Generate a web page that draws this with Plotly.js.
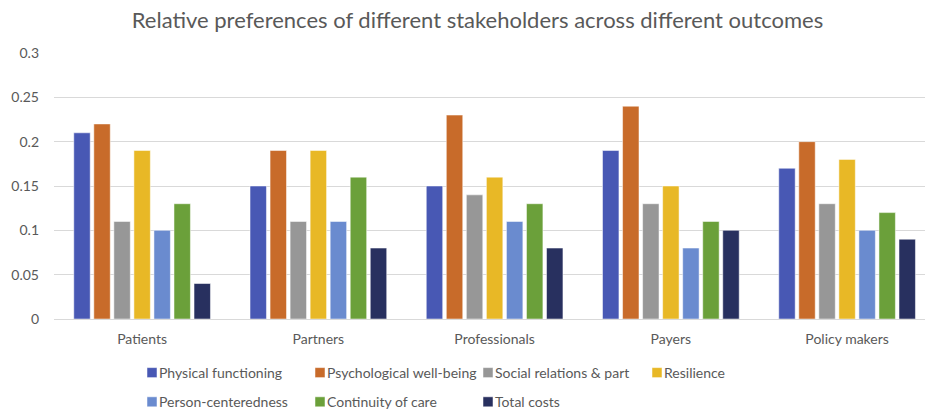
<!DOCTYPE html>
<html>
<head>
<meta charset="utf-8">
<script src="https://cdn.plot.ly/plotly-3.0.1.min.js"></script>
<style>html,body{margin:0;padding:0;background:#fff;}#chart{width:925px;height:411px;}</style>
</head>
<body>
<div id="chart"></div>
<script>
const categories = ["Patients", "Partners", "Professionals", "Payers", "Policy makers"];
const seriesNames = ["Physical functioning", "Psychological well-being", "Social relations & part", "Resilience", "Person-centeredness", "Continuity of care", "Total costs"];
const physical = [0.21, 0.15, 0.15, 0.19, 0.17];
const psychological = [0.22, 0.19, 0.23, 0.24, 0.20];
const social = [0.11, 0.11, 0.14, 0.13, 0.13];
const resilience = [0.19, 0.19, 0.16, 0.15, 0.18];
const personCentered = [0.10, 0.11, 0.11, 0.08, 0.10];
const continuity = [0.13, 0.16, 0.13, 0.11, 0.12];
const totalCosts = [0.04, 0.08, 0.08, 0.10, 0.09];
const yTicks = [0, 0.05, 0.1, 0.15, 0.2, 0.25, 0.3];
const yTickLabels = ["0", "0.05", "0.1", "0.15", "0.2", "0.25", "0.3"];

const seriesValues = [physical, psychological, social, resilience, personCentered, continuity, totalCosts];
const colors = ["#4858B4", "#C86B2A", "#979797", "#E8B826", "#6A8BCF", "#6BA03A", "#28305F"];
const legendFor = ["legend", "legend2", "legend3", "legend4", "legend", "legend2", "legend3"];

const FONT = "Lato, 'Liberation Sans', sans-serif";
const traces = seriesNames.map((n, i) => ({
  type: "bar",
  name: n,
  x: categories,
  y: seriesValues[i],
  marker: {color: colors[i], line: {color: "#ffffff", width: 0.5}},
  legend: legendFor[i],
  legendgroup: "g" + i,
  hoverinfo: "x+y+name"
}));

function leg(xpx) {
  return {
    orientation: "v",
    xref: "container", yref: "container",
    x: xpx / 925, y: 1 - 357 / 411,
    xanchor: "left", yanchor: "top",
    font: {family: FONT, size: 14, color: "#595959"},
    tracegroupgap: 8,
    bgcolor: "rgba(0,0,0,0)",
    itemwidth: 30
  };
}

const layout = {
  width: 925, height: 411,
  margin: {l: 54, r: 0, t: 53, b: 92, autoexpand: false},
  paper_bgcolor: "#ffffff",
  plot_bgcolor: "#ffffff",
  title: {
    text: "Relative preferences of different stakeholders across different outcomes",
    font: {family: FONT, size: 22, color: "#595959"},
    xref: "container", yref: "container",
    x: 477.5 / 925, xanchor: "center",
    y: 1 - 20 / 411, yanchor: "middle"
  },
  barmode: "group",
  bargap: 0.204,
  bargroupgap: 0.18,
  xaxis: {
    type: "category",
    range: [-0.5, 4.442],
    showgrid: false,
    showline: true, linecolor: "#d9d9d9", linewidth: 1,
    ticks: "",
    ticklabelstandoff: 7,
    tickfont: {family: FONT, size: 14, color: "#595959"},
    fixedrange: true
  },
  yaxis: {
    range: [0, 0.3],
    tickvals: yTicks,
    ticktext: yTickLabels,
    showgrid: true, gridcolor: "#d9d9d9", gridwidth: 1,
    zeroline: false,
    showline: false,
    ticks: "",
    ticklabelstandoff: 14,
    tickfont: {family: FONT, size: 14, color: "#595959"},
    fixedrange: true
  },
  showlegend: true,
  legend: leg(132),
  legend2: leg(300),
  legend3: leg(468),
  legend4: leg(637)
};

const gd = document.getElementById("chart");
const SW = "M5,5H-5V-5H5Z";
function tightenLegend() {
  // smaller square swatch and text closer to it, as in the reference (all legends: legend, legend2, ...)
  gd.querySelectorAll("g.traces > text").forEach(function (t) {
    if (t.getAttribute("x") !== "27") t.setAttribute("x", "27");
  });
  gd.querySelectorAll("g.traces g[class*='points'] path").forEach(function (p) {
    if (p.getAttribute("d") !== SW) p.setAttribute("d", SW);
  });
}
const obs = new MutationObserver(tightenLegend);
obs.observe(gd, {subtree: true, childList: true, attributes: true, attributeFilter: ["x", "d"]});
Plotly.newPlot(gd, traces, layout, {displayModeBar: false, staticPlot: true}).then(tightenLegend);
</script>
</body>
</html>
